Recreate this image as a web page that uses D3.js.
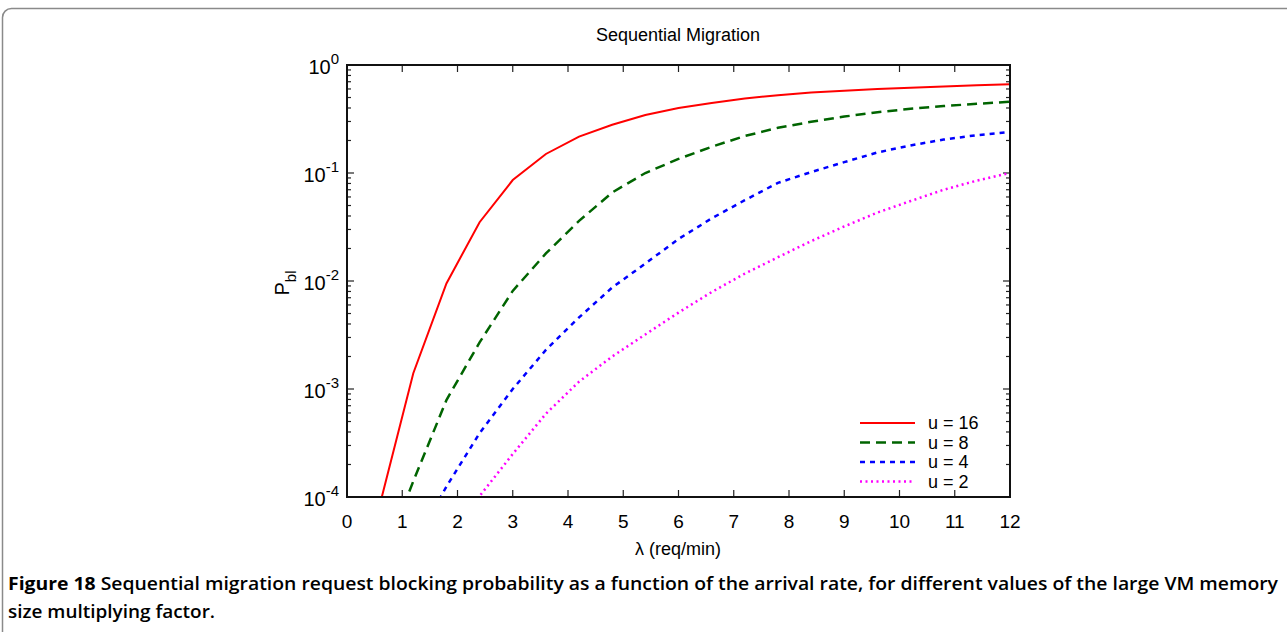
<!DOCTYPE html>
<html>
<head>
<meta charset="utf-8">
<script src="https://cdn.jsdelivr.net/npm/d3@7"></script>
<style>
  body { margin: 0; background: #fff; }
  svg { display: block; font-family: "Liberation Sans", Arial, sans-serif; }
</style>
</head>
<body>
<script>
// data (lambda in req/min, blocking probability)
var lambda = [0.6, 1.2, 1.8, 2.4, 3.0, 3.6, 4.2, 4.8, 5.4, 6.0, 6.6, 7.2, 7.8, 8.4, 9.0, 9.6, 10.2, 10.8, 11.4, 12.0];
var u16 = [8.7e-5, 1.4e-3, 9.5e-3, 0.035, 0.086, 0.15, 0.217, 0.28, 0.345, 0.40, 0.445, 0.49, 0.525, 0.555, 0.578, 0.598, 0.615, 0.632, 0.648, 0.665];
var u8  = [2.3e-5, 1.4e-4, 7.9e-4, 2.7e-3, 8.1e-3, 0.018, 0.036, 0.066, 0.10, 0.135, 0.175, 0.22, 0.262, 0.298, 0.333, 0.365, 0.393, 0.417, 0.437, 0.457];
var u4  = [5e-6, 3.5e-5, 1.25e-4, 3.9e-4, 1.0e-3, 2.3e-3, 4.6e-3, 8.7e-3, 0.0145, 0.0245, 0.038, 0.056, 0.081, 0.102, 0.126, 0.155, 0.18, 0.204, 0.224, 0.24];
var u2  = [1e-6, 8e-6, 3.9e-5, 1.02e-4, 2.5e-4, 5.9e-4, 1.17e-3, 2.0e-3, 3.2e-3, 5.1e-3, 7.9e-3, 0.0117, 0.0166, 0.0234, 0.032, 0.043, 0.055, 0.07, 0.085, 0.10];
var seriesNames = ['u = 16', 'u = 8', 'u = 4', 'u = 2'];
var xTicks = [0, 1, 2, 3, 4, 5, 6, 7, 8, 9, 10, 11, 12];
var yExps = [0, -1, -2, -3, -4];

var series = [
  {name: seriesNames[0], values: u16, color: '#ff0000', dash: null, width: 2},
  {name: seriesNames[1], values: u8, color: '#006400', dash: '10,6', width: 2.5},
  {name: seriesNames[2], values: u4, color: '#0000ff', dash: '5,5', width: 2.5},
  {name: seriesNames[3], values: u2, color: '#ff00ff', dash: '2,3.5', width: 2.5}
];

var W = 1287, H = 632;
var pLeft = 347, pRight = 1010, pTop = 65, pBottom = 497;

var svg = d3.select('body').append('svg')
    .attr('width', W)
    .attr('height', H);

// figure frame
svg.append('rect')
    .attr('x', 2.5).attr('y', 8.5)
    .attr('width', W + 20).attr('height', H + 20)
    .attr('rx', 9)
    .attr('fill', 'none')
    .attr('stroke', '#8a8a8a')
    .attr('stroke-width', 1.5);

var x = d3.scaleLinear().domain([0, 12]).range([pLeft, pRight]);
var y = d3.scaleLog().domain([1e-4, 1]).range([pBottom, pTop]);

// clip
svg.append('clipPath').attr('id', 'plot')
   .append('rect')
    .attr('x', pLeft).attr('y', pTop)
    .attr('width', pRight - pLeft).attr('height', pBottom - pTop);

// minor / major y ticks on both sides
var allY = y.ticks();
var majorY = yExps.map(function(e) { return Math.pow(10, e); });
var minorY = allY.filter(function(v) {
    return !majorY.some(function(m) { return Math.abs(m - v) / m < 1e-9; });
});

function tickLines(g, vals, len) {
    vals.forEach(function(v) {
        g.append('line')
            .attr('x1', pLeft).attr('x2', pLeft + len)
            .attr('y1', y(v)).attr('y2', y(v));
        g.append('line')
            .attr('x1', pRight).attr('x2', pRight - len)
            .attr('y1', y(v)).attr('y2', y(v));
    });
}
var ticks = svg.append('g').attr('stroke', '#222').attr('stroke-width', 1.2);
tickLines(ticks, minorY, 4);
tickLines(ticks, majorY, 7);

xTicks.forEach(function(t) {
    ticks.append('line')
        .attr('x1', x(t)).attr('x2', x(t))
        .attr('y1', pBottom).attr('y2', pBottom - 7);
    ticks.append('line')
        .attr('x1', x(t)).attr('x2', x(t))
        .attr('y1', pTop).attr('y2', pTop + 7);
});

// lines
var line = d3.line()
    .x(function(d, i) { return x(lambda[i]); })
    .y(function(d) { return y(d); });

svg.append('g').attr('clip-path', 'url(#plot)')
   .selectAll('path')
    .data(series).enter().append('path')
    .attr('d', function(s) { return line(s.values); })
    .attr('fill', 'none')
    .attr('stroke', function(s) { return s.color; })
    .attr('stroke-width', function(s) { return s.width; })
    .attr('stroke-dasharray', function(s) { return s.dash; });

// frame of the plot
svg.append('rect')
    .attr('x', pLeft).attr('y', pTop)
    .attr('width', pRight - pLeft).attr('height', pBottom - pTop)
    .attr('fill', 'none')
    .attr('stroke', '#111')
    .attr('stroke-width', 2);

// x tick labels
svg.append('g').selectAll('text')
    .data(xTicks).enter().append('text')
    .attr('x', function(d) { return x(d); })
    .attr('y', 528)
    .attr('text-anchor', 'middle')
    .attr('font-size', 19)
    .text(function(d) { return d; });

// y tick labels
var yl = svg.append('g').selectAll('text')
    .data(yExps).enter().append('text')
    .attr('x', 339)
    .attr('y', function(d) { return y(Math.pow(10, d)) + 9; })
    .attr('text-anchor', 'end')
    .attr('font-size', 20);
yl.append('tspan').text('10');
yl.append('tspan')
    .attr('dy', -10)
    .attr('font-size', 15)
    .text(function(d) { return d === 0 ? '0' : '-' + Math.abs(d); });

// legend
var lg = svg.append('g').selectAll('g')
    .data(series).enter().append('g')
    .attr('transform', function(s, i) { return 'translate(0,' + (423 + i * 19.5) + ')'; });
lg.append('line')
    .attr('x1', 860).attr('x2', 915)
    .attr('stroke', function(s) { return s.color; })
    .attr('stroke-width', function(s) { return s.width; })
    .attr('stroke-dasharray', function(s) { return s.dash; });
lg.append('text')
    .attr('x', 928).attr('y', 6)
    .attr('font-size', 18)
    .text(function(s) { return s.name; });

// titles
svg.append('text')
    .attr('x', 678).attr('y', 41)
    .attr('text-anchor', 'middle')
    .attr('font-size', 18)
    .text('Sequential Migration');

var yt = svg.append('text')
    .attr('transform', 'translate(289,' + 283 + ')rotate(-90)')
    .attr('text-anchor', 'middle')
    .attr('font-size', 20);
yt.append('tspan').text('P');
yt.append('tspan').attr('dy', 7).attr('font-size', 15).text('bl');

svg.append('text')
    .attr('x', 678).attr('y', 555)
    .attr('text-anchor', 'middle')
    .attr('font-size', 18)
    .text('λ (req/min)');

// caption
var cap = svg.append('g')
    .attr('font-family', '"Open Sans", sans-serif')
    .attr('font-weight', 600)
    .attr('font-size', 18);
var c1 = cap.append('text')
    .attr('x', 8).attr('y', 590)
    .attr('textLength', 1270)
    .attr('lengthAdjust', 'spacingAndGlyphs');
c1.append('tspan').attr('font-weight', 700).text('Figure 18 ');
c1.append('tspan').text('Sequential migration request blocking probability as a function of the arrival rate, for different values of the large VM memory');
cap.append('text')
    .attr('x', 8).attr('y', 618)
    .attr('textLength', 207)
    .attr('lengthAdjust', 'spacingAndGlyphs')
    .text('size multiplying factor.');
</script>
</body>
</html>
